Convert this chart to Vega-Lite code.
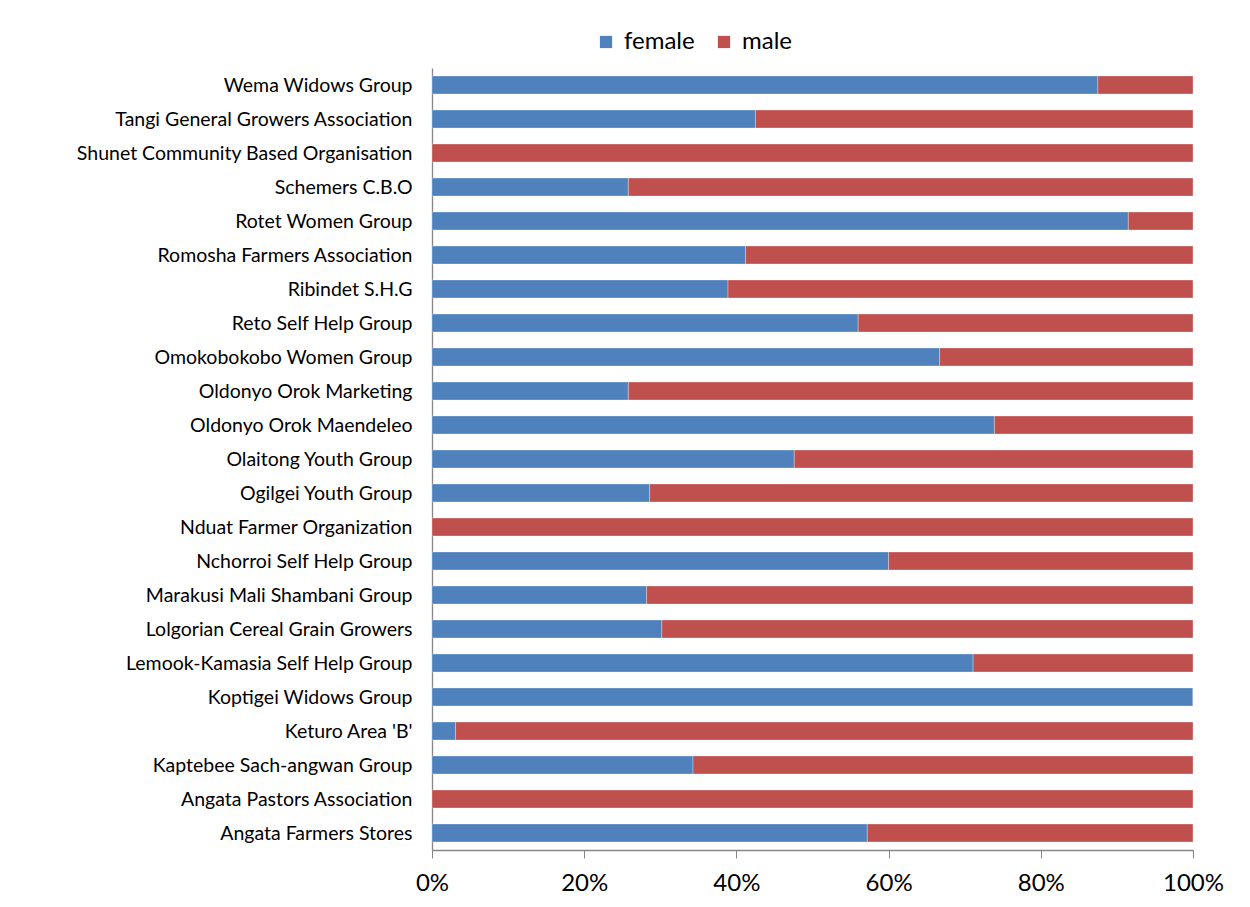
{
  "$schema": "https://vega.github.io/schema/vega-lite/v6.json",
  "width": 761,
  "height": 782,
  "autosize": {"type": "none"},
  "padding": {"left": 432, "top": 68, "right": 57, "bottom": 57},
  "background": "white",
  "data": {
    "values": [
      {"group": "Wema Widows Group", "gender": "female", "share": 87.5},
      {"group": "Wema Widows Group", "gender": "male", "share": 12.5},
      {"group": "Tangi General Growers Association", "gender": "female", "share": 42.5},
      {"group": "Tangi General Growers Association", "gender": "male", "share": 57.5},
      {"group": "Shunet Community Based Organisation", "gender": "female", "share": 0},
      {"group": "Shunet Community Based Organisation", "gender": "male", "share": 100},
      {"group": "Schemers C.B.O", "gender": "female", "share": 25.8},
      {"group": "Schemers C.B.O", "gender": "male", "share": 74.2},
      {"group": "Rotet Women Group", "gender": "female", "share": 91.5},
      {"group": "Rotet Women Group", "gender": "male", "share": 8.5},
      {"group": "Romosha Farmers Association", "gender": "female", "share": 41.2},
      {"group": "Romosha Farmers Association", "gender": "male", "share": 58.8},
      {"group": "Ribindet S.H.G", "gender": "female", "share": 38.9},
      {"group": "Ribindet S.H.G", "gender": "male", "share": 61.1},
      {"group": "Reto Self Help Group", "gender": "female", "share": 56.0},
      {"group": "Reto Self Help Group", "gender": "male", "share": 44.0},
      {"group": "Omokobokobo Women Group", "gender": "female", "share": 66.7},
      {"group": "Omokobokobo Women Group", "gender": "male", "share": 33.3},
      {"group": "Oldonyo Orok Marketing", "gender": "female", "share": 25.8},
      {"group": "Oldonyo Orok Marketing", "gender": "male", "share": 74.2},
      {"group": "Oldonyo Orok Maendeleo", "gender": "female", "share": 73.9},
      {"group": "Oldonyo Orok Maendeleo", "gender": "male", "share": 26.1},
      {"group": "Olaitong Youth Group", "gender": "female", "share": 47.6},
      {"group": "Olaitong Youth Group", "gender": "male", "share": 52.4},
      {"group": "Ogilgei Youth Group", "gender": "female", "share": 28.6},
      {"group": "Ogilgei Youth Group", "gender": "male", "share": 71.4},
      {"group": "Nduat Farmer Organization", "gender": "female", "share": 0},
      {"group": "Nduat Farmer Organization", "gender": "male", "share": 100},
      {"group": "Nchorroi Self Help Group", "gender": "female", "share": 60.0},
      {"group": "Nchorroi Self Help Group", "gender": "male", "share": 40.0},
      {"group": "Marakusi Mali Shambani Group", "gender": "female", "share": 28.2},
      {"group": "Marakusi Mali Shambani Group", "gender": "male", "share": 71.8},
      {"group": "Lolgorian Cereal Grain Growers", "gender": "female", "share": 30.2},
      {"group": "Lolgorian Cereal Grain Growers", "gender": "male", "share": 69.8},
      {"group": "Lemook-Kamasia Self Help Group", "gender": "female", "share": 71.1},
      {"group": "Lemook-Kamasia Self Help Group", "gender": "male", "share": 28.9},
      {"group": "Koptigei Widows Group", "gender": "female", "share": 100},
      {"group": "Koptigei Widows Group", "gender": "male", "share": 0},
      {"group": "Keturo Area 'B'", "gender": "female", "share": 3.1},
      {"group": "Keturo Area 'B'", "gender": "male", "share": 96.9},
      {"group": "Kaptebee Sach-angwan Group", "gender": "female", "share": 34.3},
      {"group": "Kaptebee Sach-angwan Group", "gender": "male", "share": 65.7},
      {"group": "Angata Pastors Association", "gender": "female", "share": 0},
      {"group": "Angata Pastors Association", "gender": "male", "share": 100},
      {"group": "Angata Farmers Stores", "gender": "female", "share": 57.2},
      {"group": "Angata Farmers Stores", "gender": "male", "share": 42.8}
    ]
  },
  "mark": {"type": "bar", "stroke": "#ffffff", "strokeOpacity": 0.5, "strokeWidth": 0.6},
  "encoding": {
    "y": {
      "field": "group",
      "type": "nominal",
      "title": null,
      "sort": null,
      "scale": {"paddingInner": 0.47, "paddingOuter": 0.235},
      "axis": {
        "ticks": false,
        "labelPadding": 20,
        "labelFont": "Lato",
        "labelFontSize": 19.5,
        "labelColor": "#000000",
        "labelLimit": 500,
        "labelOffset": 1,
        "domainColor": "#868686",
        "domainWidth": 1.3
      }
    },
    "x": {
      "field": "share",
      "type": "quantitative",
      "stack": "normalize",
      "title": null,
      "axis": {
        "format": "%",
        "values": [0, 0.2, 0.4, 0.6, 0.8, 1],
        "grid": false,
        "tickSize": 8,
        "tickColor": "#868686",
        "domainColor": "#868686",
        "domainWidth": 1.3,
        "labelPadding": 13,
        "labelFont": "Lato",
        "labelFontSize": 24,
        "labelColor": "#000000",
        "labelFlush": false
      }
    },
    "color": {
      "field": "gender",
      "type": "nominal",
      "scale": {"domain": ["female", "male"], "range": ["#4F81BD", "#C0504D"]},
      "legend": {
        "title": null,
        "orient": "none",
        "direction": "horizontal",
        "legendX": 162,
        "legendY": -38,
        "symbolType": "square",
        "symbolSize": 150,
        "symbolStrokeWidth": 0,
        "labelFont": "Lato",
        "labelFontSize": 24,
        "labelColor": "#000000",
        "columnPadding": 17,
        "labelOffset": 6
      }
    },
    "order": {"field": "gender", "sort": "ascending"}
  },
  "config": {"view": {"stroke": null}}
}
